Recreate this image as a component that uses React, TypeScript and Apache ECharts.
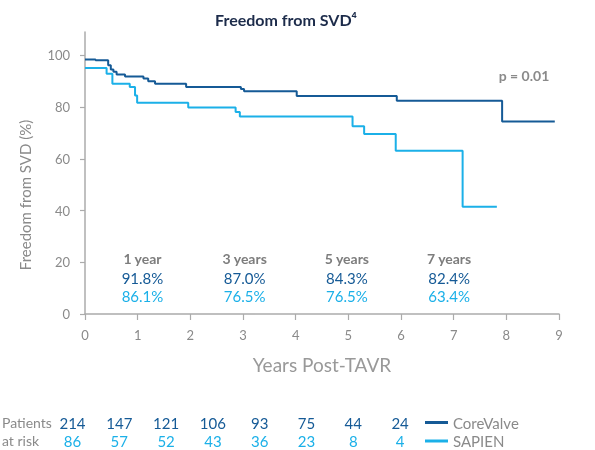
import React, { useEffect, useRef } from 'react';
import * as echarts from 'echarts';

// Kaplan-Meier step points: [years, freedom from SVD %]
const coreValve: [number, number][] = [
  [0, 98.4], [0.2, 98.1], [0.44, 96.1], [0.49, 94.5], [0.54, 93.6], [0.6, 92.6],
  [0.76, 91.8], [1.11, 91.0], [1.2, 90.0], [1.33, 89.0], [1.92, 87.7],
  [2.96, 87.0], [3.02, 86.1], [4.02, 84.3], [5.92, 82.4], [7.92, 74.4], [8.92, 74.4],
];
const sapien: [number, number][] = [
  [0, 95.1], [0.41, 92.9], [0.52, 89.0], [0.85, 87.7], [0.95, 84.5], [0.99, 81.7],
  [1.96, 79.8], [2.86, 78.1], [2.94, 76.3], [5.08, 72.6], [5.3, 69.6], [5.9, 63.1],
  [7.17, 41.5], [7.82, 41.5],
];

const milestoneLabels = ['1 year', '3 years', '5 years', '7 years'];
const coreValvePct = ['91.8%', '87.0%', '84.3%', '82.4%'];
const sapienPct = ['86.1%', '76.5%', '76.5%', '63.4%'];
const atRiskCoreValve = [214, 147, 121, 106, 93, 75, 44, 24];
const atRiskSapien = [86, 57, 52, 43, 36, 23, 8, 4];
const yTicks = [0, 20, 40, 60, 80, 100];
const seriesNames = ['CoreValve', 'SAPIEN'];

const DARK = '#155a96';
const LIGHT = '#1bb0e8';
const GREY = '#8a8a8a';
const AXIS = '#ababab';
const FONT = 'Lato, "Noto Sans", sans-serif';

export default function App() {
  const ref = useRef<HTMLDivElement>(null);
  useEffect(() => {
    if (!ref.current) return;
    const chart = echarts.init(ref.current, undefined, { renderer: 'svg' });

    const graphics: any[] = [];
    graphics.push({
      type: 'text', x: 524, y: 75,
      style: { text: 'p = 0.01', fill: GREY, font: `bold 14px ${FONT}`, align: 'center', verticalAlign: 'middle' },
    });
    graphics.push({
      type: 'text', x: 25, y: 195, rotation: Math.PI / 2,
      style: { text: 'Freedom from SVD (%)', fill: GREY, font: `15px ${FONT}`, align: 'center', verticalAlign: 'middle' },
    });
    milestoneLabels.forEach((lab, i) => {
      const cx = 142.5 + i * 102.2;
      graphics.push({ type: 'text', x: cx, y: 258, style: { text: lab, fill: '#7d7d7d', font: `bold 14px ${FONT}`, align: 'center', verticalAlign: 'middle' } });
      graphics.push({ type: 'text', x: cx, y: 277.5, style: { text: coreValvePct[i], fill: DARK, font: `15px ${FONT}`, align: 'center', verticalAlign: 'middle' } });
      graphics.push({ type: 'text', x: cx, y: 296, style: { text: sapienPct[i], fill: LIGHT, font: `15px ${FONT}`, align: 'center', verticalAlign: 'middle' } });
    });
    graphics.push({ type: 'text', x: 2, y: 422.5, style: { text: 'Patients', fill: GREY, font: `14px ${FONT}`, align: 'left', verticalAlign: 'middle' } });
    graphics.push({ type: 'text', x: 2, y: 440, style: { text: 'at risk', fill: GREY, font: `14px ${FONT}`, align: 'left', verticalAlign: 'middle' } });
    atRiskCoreValve.forEach((v, i) => {
      const cx = 72.5 + i * 46.8;
      graphics.push({ type: 'text', x: cx, y: 422.5, style: { text: String(v), fill: DARK, font: `15px ${FONT}`, align: 'center', verticalAlign: 'middle' } });
      graphics.push({ type: 'text', x: cx, y: 441, style: { text: String(atRiskSapien[i]), fill: LIGHT, font: `15px ${FONT}`, align: 'center', verticalAlign: 'middle' } });
    });

    chart.setOption({
      animation: false,
      textStyle: { fontFamily: FONT },
      title: {
        text: 'Freedom from SVD\u2074',
        left: 281, top: 6, textAlign: 'center',
        textStyle: { fontSize: 16, fontWeight: 'bold', color: '#1c2b4a', fontFamily: FONT },
      },
      legend: {
        data: seriesNames,
        orient: 'vertical',
        left: 425, top: 414.5, padding: 0,
        itemWidth: 23, itemHeight: 3, itemGap: 2.5,
        icon: 'rect',
        textStyle: { color: GREY, fontSize: 15, lineHeight: 16, fontFamily: FONT },
      },
      grid: { left: 85, right: 36, top: 32, bottom: 136, containLabel: false },
      xAxis: {
        type: 'value', min: 0, max: 9, interval: 1,
        name: 'Years Post-TAVR', nameLocation: 'middle', nameGap: 41,
        nameTextStyle: { color: '#999', fontSize: 19, fontFamily: FONT },
        axisLine: { show: true, lineStyle: { color: AXIS, width: 1.5 } },
        axisTick: { show: true, length: 6, lineStyle: { color: AXIS, width: 1.2 } },
        axisLabel: { color: GREY, fontSize: 13, margin: 14 },
        splitLine: { show: false },
      },
      yAxis: {
        type: 'value', min: 0, max: 109,
        axisLine: { show: true, lineStyle: { color: AXIS, width: 1.5 } },
        axisTick: { show: true, length: 5, customValues: yTicks, lineStyle: { color: AXIS, width: 1.2 } },
        axisLabel: { color: GREY, fontSize: 13, margin: 15, customValues: yTicks },
        splitLine: { show: false },
      },
      graphic: graphics,
      series: [
        {
          name: seriesNames[0], type: 'line', step: 'end', data: coreValve,
          showSymbol: false, symbol: 'none',
          lineStyle: { color: DARK, width: 2 }, itemStyle: { color: DARK },
        },
        {
          name: seriesNames[1], type: 'line', step: 'end', data: sapien,
          showSymbol: false, symbol: 'none',
          lineStyle: { color: LIGHT, width: 2 }, itemStyle: { color: LIGHT },
        },
      ],
    });
    return () => chart.dispose();
  }, []);
  return <div ref={ref} style={{ position: 'fixed', left: 0, top: 0, width: 595, height: 450 }} />;
}
